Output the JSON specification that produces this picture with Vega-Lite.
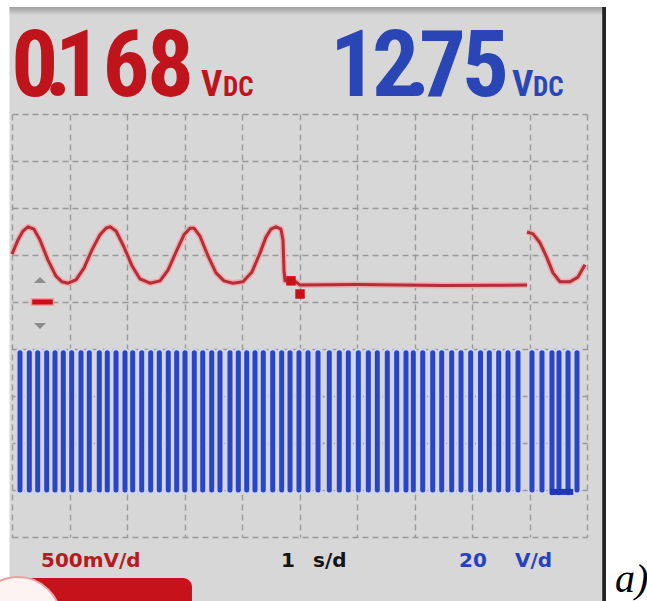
{
  "$schema": "https://vega.github.io/schema/vega-lite/v6.json",
  "width": 575,
  "height": 423,
  "autosize": {"type": "none"},
  "padding": {"left": 12, "top": 114, "right": 60, "bottom": 64},
  "background": "#d7d7d7",
  "config": {
    "view": {"stroke": null},
    "axis": {"labels": false, "ticks": false, "domain": false, "titleOpacity": 0, "grid": true, "gridColor": "#999999", "gridDash": [6, 4], "gridWidth": 1.4}
  },
  "datasets": {
    "blue": [
      {"t":0.139,"hi":3.92,"lo":1},{"t":0.301,"hi":3.92,"lo":1},{"t":0.447,"hi":3.92,"lo":1},{"t":0.603,"hi":3.92,"lo":1},
      {"t":0.748,"hi":3.92,"lo":1},{"t":0.892,"hi":3.92,"lo":1},{"t":1.038,"hi":3.92,"lo":1},{"t":1.2,"hi":3.92,"lo":1},
      {"t":1.344,"hi":3.92,"lo":1},{"t":1.518,"hi":3.92,"lo":1},{"t":1.657,"hi":3.92,"lo":1},{"t":1.809,"hi":3.92,"lo":1},
      {"t":1.965,"hi":3.92,"lo":1},{"t":2.099,"hi":3.92,"lo":1},{"t":2.256,"hi":3.92,"lo":1},{"t":2.412,"hi":3.92,"lo":1},
      {"t":2.562,"hi":3.92,"lo":1},{"t":2.718,"hi":3.92,"lo":1},{"t":2.864,"hi":3.92,"lo":1},{"t":3.009,"hi":3.92,"lo":1},
      {"t":3.17,"hi":3.92,"lo":1},{"t":3.317,"hi":3.92,"lo":1},{"t":3.473,"hi":3.92,"lo":1},{"t":3.617,"hi":3.92,"lo":1},
      {"t":3.791,"hi":3.92,"lo":1},{"t":3.936,"hi":3.92,"lo":1},{"t":4.082,"hi":3.92,"lo":1},{"t":4.226,"hi":3.92,"lo":1},
      {"t":4.37,"hi":3.92,"lo":1},{"t":4.534,"hi":3.92,"lo":1},{"t":4.69,"hi":3.92,"lo":1},{"t":4.835,"hi":3.92,"lo":1},
      {"t":4.991,"hi":3.92,"lo":1},{"t":5.148,"hi":3.92,"lo":1},{"t":5.322,"hi":3.92,"lo":1},{"t":5.518,"hi":3.92,"lo":1},
      {"t":5.692,"hi":3.92,"lo":1},{"t":5.849,"hi":3.92,"lo":1},{"t":6.023,"hi":3.92,"lo":1},{"t":6.197,"hi":3.92,"lo":1},
      {"t":6.353,"hi":3.92,"lo":1},{"t":6.527,"hi":3.92,"lo":1},{"t":6.69,"hi":3.92,"lo":1},{"t":6.852,"hi":3.92,"lo":1},
      {"t":6.979,"hi":3.92,"lo":1},{"t":7.143,"hi":3.92,"lo":1},{"t":7.317,"hi":3.92,"lo":1},{"t":7.473,"hi":3.92,"lo":1},
      {"t":7.647,"hi":3.92,"lo":1},{"t":7.809,"hi":3.92,"lo":1},{"t":7.977,"hi":3.92,"lo":1},{"t":8.148,"hi":3.92,"lo":1},
      {"t":8.301,"hi":3.92,"lo":1},{"t":8.464,"hi":3.92,"lo":1},{"t":8.626,"hi":3.92,"lo":1},{"t":8.8,"hi":3.92,"lo":1},
      {"t":9.043,"hi":3.92,"lo":1},{"t":9.217,"hi":3.92,"lo":1},{"t":9.391,"hi":3.92,"lo":0.94},{"t":9.513,"hi":3.92,"lo":0.94},
      {"t":9.67,"hi":3.92,"lo":0.94},{"t":9.826,"hi":3.92,"lo":1}
    ],
    "blueLow": [{"t":9.36,"v":0.96},{"t":9.76,"v":0.96}],
    "red": [
      {"t":0,"v":6.02,"seg":1},{"t":0.104,"v":6.32,"seg":1},{"t":0.191,"v":6.51,"seg":1},{"t":0.278,"v":6.6,"seg":1},
      {"t":0.383,"v":6.55,"seg":1},{"t":0.487,"v":6.32,"seg":1},{"t":0.626,"v":5.89,"seg":1},{"t":0.765,"v":5.55,"seg":1},
      {"t":0.87,"v":5.43,"seg":1},{"t":0.974,"v":5.4,"seg":1},{"t":1.113,"v":5.47,"seg":1},{"t":1.252,"v":5.72,"seg":1},
      {"t":1.391,"v":6.11,"seg":1},{"t":1.53,"v":6.43,"seg":1},{"t":1.635,"v":6.57,"seg":1},{"t":1.704,"v":6.6,"seg":1},
      {"t":1.809,"v":6.51,"seg":1},{"t":1.948,"v":6.17,"seg":1},{"t":2.087,"v":5.77,"seg":1},{"t":2.226,"v":5.49,"seg":1},
      {"t":2.4,"v":5.4,"seg":1},{"t":2.574,"v":5.45,"seg":1},{"t":2.713,"v":5.68,"seg":1},{"t":2.852,"v":6.06,"seg":1},
      {"t":2.991,"v":6.43,"seg":1},{"t":3.096,"v":6.57,"seg":1},{"t":3.165,"v":6.57,"seg":1},{"t":3.27,"v":6.4,"seg":1},
      {"t":3.409,"v":5.98,"seg":1},{"t":3.548,"v":5.62,"seg":1},{"t":3.687,"v":5.45,"seg":1},{"t":3.843,"v":5.4,"seg":1},
      {"t":4.017,"v":5.43,"seg":1},{"t":4.174,"v":5.64,"seg":1},{"t":4.313,"v":6.04,"seg":1},{"t":4.417,"v":6.38,"seg":1},
      {"t":4.504,"v":6.55,"seg":1},{"t":4.591,"v":6.6,"seg":1},{"t":4.678,"v":6.55,"seg":1},{"t":4.713,"v":6.32,"seg":1},
      {"t":4.73,"v":5.68,"seg":1},{"t":4.748,"v":5.45,"seg":1},{"t":4.939,"v":5.43,"seg":1},{"t":5.009,"v":5.36,"seg":1},
      {"t":6.0,"v":5.37,"seg":1},{"t":6.748,"v":5.36,"seg":1},{"t":7.5,"v":5.35,"seg":1},{"t":8.957,"v":5.36,"seg":1},
      {"t":8.957,"v":6.49,"seg":2},{"t":9.061,"v":6.45,"seg":2},{"t":9.183,"v":6.26,"seg":2},{"t":9.304,"v":5.94,"seg":2},
      {"t":9.409,"v":5.62,"seg":2},{"t":9.53,"v":5.43,"seg":2},{"t":9.704,"v":5.43,"seg":2},{"t":9.843,"v":5.53,"seg":2},
      {"t":9.965,"v":5.79,"seg":2}
    ],
    "trig": [{"t":4.852,"v":5.45},{"t":5.009,"v":5.17}]
  },
  "layer": [
    {
      "data": {"name": "blue"},
      "mark": {"type": "rule", "color": "#cfd6f2", "strokeWidth": 9, "strokeCap": "round"},
      "encoding": {
        "x": {"field": "t", "type": "quantitative", "title": null, "scale": {"domain": [0, 10], "nice": false, "zero": false},
          "axis": {"values": [0,1,2,3,4,5,6,7,8,9,10], "title": null}},
        "y": {"field": "hi", "type": "quantitative", "title": null, "scale": {"domain": [0, 9], "nice": false, "zero": false},
          "axis": {"values": [0,1,2,3,4,5,6,7,8,9], "title": null}},
        "y2": {"field": "lo"}
      }
    },
    {
      "data": {"name": "blue"},
      "mark": {"type": "rule", "color": "#2b44c2", "strokeWidth": 5, "strokeCap": "round"},
      "encoding": {
        "x": {"field": "t", "type": "quantitative"},
        "y": {"field": "hi", "type": "quantitative"},
        "y2": {"field": "lo"}
      }
    },
    {
      "data": {"name": "blueLow"},
      "mark": {"type": "line", "color": "#2035b8", "strokeWidth": 6},
      "encoding": {
        "x": {"field": "t", "type": "quantitative"},
        "y": {"field": "v", "type": "quantitative"}
      }
    },
    {
      "data": {"name": "red"},
      "mark": {"type": "line", "color": "#f1a9aa", "strokeWidth": 6, "strokeJoin": "round"},
      "encoding": {
        "x": {"field": "t", "type": "quantitative"},
        "y": {"field": "v", "type": "quantitative"},
        "detail": {"field": "seg"}
      }
    },
    {
      "data": {"name": "red"},
      "mark": {"type": "line", "color": "#b12f38", "strokeWidth": 3, "strokeJoin": "round"},
      "encoding": {
        "x": {"field": "t", "type": "quantitative"},
        "y": {"field": "v", "type": "quantitative"},
        "detail": {"field": "seg"}
      }
    },
    {
      "data": {"name": "trig"},
      "mark": {"type": "point", "shape": "square", "filled": true, "size": 90, "color": "#cc1018", "opacity": 1},
      "encoding": {
        "x": {"field": "t", "type": "quantitative"},
        "y": {"field": "v", "type": "quantitative"}
      }
    },
    {
      "data": {"values": [{}]},
      "mark": {"type": "point", "shape": "M-1,-0.3L1,-0.3L1,0.3L-1,0.3Z", "filled": true, "size": 484, "color": "#c80f16", "stroke": "#f0a0a0", "strokeWidth": 1.5, "opacity": 1},
      "encoding": {
        "x": {"datum": 0.53, "type": "quantitative"},
        "y": {"datum": 5.0, "type": "quantitative"}
      }
    },
    {
      "data": {"values": [{}]},
      "mark": {"type": "point", "shape": "M-1,0.5L0,-0.5L1,0.5Z", "filled": true, "size": 144, "color": "#8c8c8c", "opacity": 1},
      "encoding": {
        "x": {"datum": 0.487, "type": "quantitative"},
        "y": {"datum": 5.47, "type": "quantitative"}
      }
    },
    {
      "data": {"values": [{}]},
      "mark": {"type": "point", "shape": "M-1,-0.5L0,0.5L1,-0.5Z", "filled": true, "size": 144, "color": "#8c8c8c", "opacity": 1},
      "encoding": {
        "x": {"datum": 0.487, "type": "quantitative"},
        "y": {"datum": 4.49, "type": "quantitative"}
      }
    },
    {
      "data": {"values": [{}]},
      "mark": {"type": "rect", "color": "#ffffff"},
      "encoding": {
        "x": {"datum": -0.3, "type": "quantitative"},
        "x2": {"datum": -0.044},
        "y": {"datum": 12, "type": "quantitative"},
        "y2": {"datum": -1.6}
      }
    },
    {
      "data": {"values": [{}]},
      "mark": {"type": "rect", "color": "#ffffff"},
      "encoding": {
        "x": {"datum": -0.3, "type": "quantitative"},
        "x2": {"datum": 11.3},
        "y": {"datum": 12, "type": "quantitative"},
        "y2": {"datum": 11.277}
      }
    },
    {
      "data": {"values": [{}]},
      "mark": {"type": "rect", "color": {"gradient": "linear", "x1": 0, "y1": 0, "x2": 0, "y2": 1, "stops": [{"offset": 0, "color": "#9e9e9e"}, {"offset": 1, "color": "#d7d7d7"}]}},
      "encoding": {
        "x": {"datum": -0.044, "type": "quantitative"},
        "x2": {"datum": 10.33},
        "y": {"datum": 11.277, "type": "quantitative"},
        "y2": {"datum": 11.1}
      }
    },
    {
      "data": {"values": [{}]},
      "mark": {"type": "rect", "color": "#ffffff"},
      "encoding": {
        "x": {"datum": 10.33, "type": "quantitative"},
        "x2": {"datum": 11.3},
        "y": {"datum": 12, "type": "quantitative"},
        "y2": {"datum": -1.6}
      }
    },
    {
      "data": {"values": [{}]},
      "mark": {"type": "rect", "color": "#222222"},
      "encoding": {
        "x": {"datum": 10.265, "type": "quantitative"},
        "x2": {"datum": 10.33},
        "y": {"datum": 11.277, "type": "quantitative"},
        "y2": {"datum": -1.6}
      }
    },
    {
      "data": {"values": [{}]},
      "mark": {"type": "rect", "color": "#c5121b", "cornerRadiusTopRight": 9},
      "encoding": {
        "x": {"datum": -0.035, "type": "quantitative"},
        "x2": {"datum": 3.13},
        "y": {"datum": -0.872, "type": "quantitative"},
        "y2": {"datum": -1.6}
      }
    },
    {
      "data": {"values": [{}]},
      "mark": {"type": "point", "shape": "circle", "filled": true, "size": 7396, "color": "#fdf3f3", "stroke": "#e9a3a3", "strokeWidth": 2, "opacity": 1},
      "encoding": {
        "x": {"datum": 0.104, "type": "quantitative"},
        "y": {"datum": -1.766, "type": "quantitative"}
      }
    },
    {
      "data": {"values": [{"c": "0", "x": 0.395}, {"c": ".", "x": 0.8}, {"c": "1", "x": 1.157}, {"c": "6", "x": 1.983}, {"c": "8", "x": 2.757}]},
      "mark": {"type": "text", "align": "center", "baseline": "alphabetic", "font": "Roboto Condensed, Liberation Sans", "fontWeight": "bold", "fontSize": 93, "color": "#c0141c"},
      "encoding": {
        "x": {"field": "x", "type": "quantitative"},
        "y": {"datum": 9.383, "type": "quantitative"},
        "text": {"field": "c"}
      }
    },
    {
      "data": {"values": [{}]},
      "mark": {"type": "text", "text": "V", "align": "left", "baseline": "alphabetic", "font": "Roboto Condensed, Liberation Sans", "fontWeight": "bold", "fontSize": 37, "color": "#c0141c"},
      "encoding": {
        "x": {"datum": 3.287, "type": "quantitative"},
        "y": {"datum": 9.383, "type": "quantitative"}
      }
    },
    {
      "data": {"values": [{}]},
      "mark": {"type": "text", "text": "DC", "align": "left", "baseline": "alphabetic", "font": "Roboto Condensed, Liberation Sans", "fontWeight": "bold", "fontSize": 27, "color": "#c0141c"},
      "encoding": {
        "x": {"datum": 3.67, "type": "quantitative"},
        "y": {"datum": 9.383, "type": "quantitative"}
      }
    },
    {
      "data": {"values": [{"c": "1", "x": 5.939}, {"c": "2", "x": 6.67}, {"c": ".", "x": 7.043}, {"c": "7", "x": 7.487}, {"c": "5", "x": 8.235}]},
      "mark": {"type": "text", "align": "center", "baseline": "alphabetic", "font": "Roboto Condensed, Liberation Sans", "fontWeight": "bold", "fontSize": 93, "color": "#2a45b6"},
      "encoding": {
        "x": {"field": "x", "type": "quantitative"},
        "y": {"datum": 9.383, "type": "quantitative"},
        "text": {"field": "c"}
      }
    },
    {
      "data": {"values": [{}]},
      "mark": {"type": "text", "text": "V", "align": "left", "baseline": "alphabetic", "font": "Roboto Condensed, Liberation Sans", "fontWeight": "bold", "fontSize": 37, "color": "#2a45b6"},
      "encoding": {
        "x": {"datum": 8.696, "type": "quantitative"},
        "y": {"datum": 9.383, "type": "quantitative"}
      }
    },
    {
      "data": {"values": [{}]},
      "mark": {"type": "text", "text": "DC", "align": "left", "baseline": "alphabetic", "font": "Roboto Condensed, Liberation Sans", "fontWeight": "bold", "fontSize": 27, "color": "#2a45b6"},
      "encoding": {
        "x": {"datum": 9.061, "type": "quantitative"},
        "y": {"datum": 9.383, "type": "quantitative"}
      }
    },
    {
      "data": {"values": [{}]},
      "mark": {"type": "text", "text": "500mV/d", "align": "left", "baseline": "alphabetic", "font": "DejaVu Sans", "fontWeight": "bold", "fontSize": 20, "color": "#b81a22"},
      "encoding": {
        "x": {"datum": 0.504, "type": "quantitative"},
        "y": {"datum": -0.638, "type": "quantitative"}
      }
    },
    {
      "data": {"values": [{}]},
      "mark": {"type": "text", "text": "1", "align": "left", "baseline": "alphabetic", "font": "DejaVu Sans", "fontWeight": "bold", "fontSize": 20, "color": "#151515"},
      "encoding": {
        "x": {"datum": 4.678, "type": "quantitative"},
        "y": {"datum": -0.638, "type": "quantitative"}
      }
    },
    {
      "data": {"values": [{}]},
      "mark": {"type": "text", "text": "s/d", "align": "left", "baseline": "alphabetic", "font": "DejaVu Sans", "fontWeight": "bold", "fontSize": 20, "color": "#151515"},
      "encoding": {
        "x": {"datum": 5.235, "type": "quantitative"},
        "y": {"datum": -0.638, "type": "quantitative"}
      }
    },
    {
      "data": {"values": [{}]},
      "mark": {"type": "text", "text": "20", "align": "left", "baseline": "alphabetic", "font": "DejaVu Sans", "fontWeight": "bold", "fontSize": 20, "color": "#2741c2"},
      "encoding": {
        "x": {"datum": 7.774, "type": "quantitative"},
        "y": {"datum": -0.638, "type": "quantitative"}
      }
    },
    {
      "data": {"values": [{}]},
      "mark": {"type": "text", "text": "V/d", "align": "left", "baseline": "alphabetic", "font": "DejaVu Sans", "fontWeight": "bold", "fontSize": 20, "color": "#2741c2"},
      "encoding": {
        "x": {"datum": 8.748, "type": "quantitative"},
        "y": {"datum": -0.638, "type": "quantitative"}
      }
    },
    {
      "data": {"values": [{}]},
      "mark": {"type": "text", "text": "a)", "align": "left", "baseline": "alphabetic", "font": "Liberation Serif", "fontStyle": "italic", "fontSize": 40, "color": "#000000"},
      "encoding": {
        "x": {"datum": 10.487, "type": "quantitative"},
        "y": {"datum": -1.17, "type": "quantitative"}
      }
    }
  ]
}
